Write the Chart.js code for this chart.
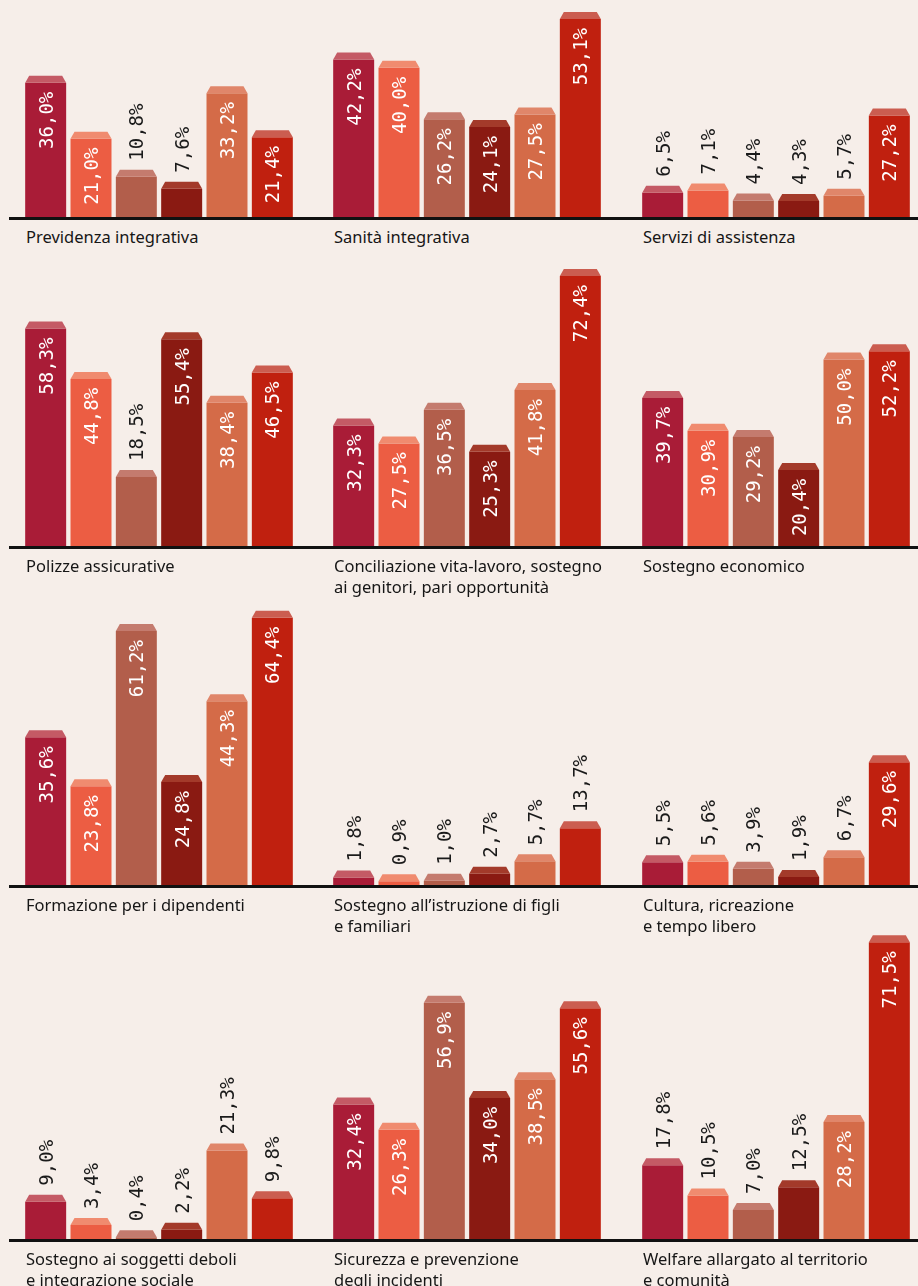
<!DOCTYPE html>
<html>
<head>
<meta charset="utf-8">
<script src="https://cdn.jsdelivr.net/npm/chart.js@4.4.1/dist/chart.umd.min.js"></script>
<style>
  html, body { margin: 0; padding: 0; background: #f6eee9; }
  #page { position: relative; width: 918px; height: 1286px; overflow: hidden; }
  .panel { position: absolute; }
  .axis { position: absolute; left: 9px; width: 909px; height: 3px; background: #111; }
  .title { position: absolute; font-family: 'Noto Sans', sans-serif; font-size: 16.5px; line-height: 21px; color: #161616; white-space: nowrap; }
</style>
</head>
<body>
<div id="page"></div>
<script>
// Data //
var seriesNames = ['Serie 1', 'Serie 2', 'Serie 3', 'Serie 4', 'Serie 5', 'Serie 6'];

var previdenza   = [36.0, 21.0, 10.8, 7.6, 33.2, 21.4];
var sanita       = [42.2, 40.0, 26.2, 24.1, 27.5, 53.1];
var assistenza   = [6.5, 7.1, 4.4, 4.3, 5.7, 27.2];
var polizze      = [58.3, 44.8, 18.5, 55.4, 38.4, 46.5];
var conciliazione = [32.3, 27.5, 36.5, 25.3, 41.8, 72.4];
var economico    = [39.7, 30.9, 29.2, 20.4, 50.0, 52.2];
var formazione   = [35.6, 23.8, 61.2, 24.8, 44.3, 64.4];
var istruzione   = [1.8, 0.9, 1.0, 2.7, 5.7, 13.7];
var cultura      = [5.5, 5.6, 3.9, 1.9, 6.7, 29.6];
var deboli       = [9.0, 3.4, 0.4, 2.2, 21.3, 9.8];
var sicurezza    = [32.4, 26.3, 56.9, 34.0, 38.5, 55.6];
var territorio   = [17.8, 10.5, 7.0, 12.5, 28.2, 71.5];

var panelTitles = [
    ['Previdenza integrativa'],
    ['Sanità integrativa'],
    ['Servizi di assistenza'],
    ['Polizze assicurative'],
    ['Conciliazione vita-lavoro, sostegno', 'ai genitori, pari opportunità'],
    ['Sostegno economico'],
    ['Formazione per i dipendenti'],
    ['Sostegno all\u2019istruzione di figli', 'e familiari'],
    ['Cultura, ricreazione', 'e tempo libero'],
    ['Sostegno ai soggetti deboli', 'e integrazione sociale'],
    ['Sicurezza e prevenzione', 'degli incidenti'],
    ['Welfare allargato al territorio', 'e comunità']
];
var panelValues = [previdenza, sanita, assistenza, polizze, conciliazione, economico,
                   formazione, istruzione, cultura, deboli, sicurezza, territorio];

// Style //
var barColors = ['#a91c37', '#ec5d43', '#b25e4b', '#8a1a12', '#d46b48', '#c0200f'];
var capColors = ['#c45a65', '#f08b6f', '#c47b6e', '#a33a2a', '#e0866a', '#cb5d50'];
var rowBaselines = [217, 546, 885, 1239];
var rowScales = [3.73, 3.73, 4.15, 4.15];   // px per percent point
var colLefts = [23, 331, 640];
var panelW = 272, panelH = 330;
var insideFrom = 20;             // labels go inside bars from this value
var forceOutside = { 9: [4] };   // panel index -> bars whose label stays on top

function fmt(v) {
    return v.toFixed(1).replace('.', ',') + '%';
}

// caps on top of bars + rotated value labels
var capsAndLabels = {
    id: 'capsAndLabels',
    afterDatasetsDraw: function(chart, args, opts) {
        var ctx = chart.ctx;
        var data = chart.data.datasets[0].data;
        var outside = forceOutside[opts.panel] || [];
        chart.getDatasetMeta(0).data.forEach(function(bar, i) {
            var half = bar.width / 2;
            var top = bar.y;
            ctx.save();
            ctx.fillStyle = capColors[i];
            ctx.beginPath();
            ctx.moveTo(bar.x - half, top);
            ctx.lineTo(bar.x - half + 4, top - 7);
            ctx.lineTo(bar.x + half - 4, top - 7);
            ctx.lineTo(bar.x + half, top);
            ctx.closePath();
            ctx.fill();

            ctx.font = '19px "DejaVu Sans Mono"';
            ctx.textBaseline = 'alphabetic';
            if (data[i] >= insideFrom && outside.indexOf(i) < 0) {
                ctx.fillStyle = '#ffffff';
                ctx.textAlign = 'right';
                ctx.translate(bar.x, top + 9);
            } else {
                ctx.fillStyle = '#1a1a1a';
                ctx.textAlign = 'left';
                ctx.translate(bar.x, top - 16);
            }
            ctx.rotate(-Math.PI / 2);
            ctx.fillText(fmt(data[i]), 0, 7);
            ctx.restore();
        });
    }
};

var page = document.getElementById('page');

rowBaselines.forEach(function(b) {
    var line = document.createElement('div');
    line.className = 'axis';
    line.style.top = b + 'px';
    page.appendChild(line);
});

panelValues.forEach(function(vals, p) {
    var row = Math.floor(p / 3), col = p % 3;
    var base = rowBaselines[row];

    var canvas = document.createElement('canvas');
    canvas.className = 'panel';
    canvas.width = panelW;
    canvas.height = panelH;
    canvas.style.left = colLefts[col] + 'px';
    canvas.style.top = (base - panelH) + 'px';
    page.appendChild(canvas);

    var title = document.createElement('div');
    title.className = 'title';
    title.style.left = (colLefts[col] + 3) + 'px';
    title.style.top = (base + 9) + 'px';
    title.innerHTML = panelTitles[p].join('<br>');
    page.appendChild(title);

    new Chart(canvas.getContext('2d'), {
        type: 'bar',
        data: {
            labels: seriesNames,
            datasets: [{
                data: vals,
                backgroundColor: barColors,
                borderWidth: 0,
                barPercentage: 0.904,
                categoryPercentage: 1,
            }],
        },
        options: {
            responsive: false,
            animation: false,
            layout: { padding: 0 },
            scales: {
                x: { display: false },
                y: { display: false, min: 0, max: panelH / rowScales[row] },
            },
            plugins: {
                legend: { display: false },
                tooltip: { enabled: false },
                capsAndLabels: { panel: p },
            }
        },
        plugins: [capsAndLabels]
    });
});
</script>
</body>
</html>
